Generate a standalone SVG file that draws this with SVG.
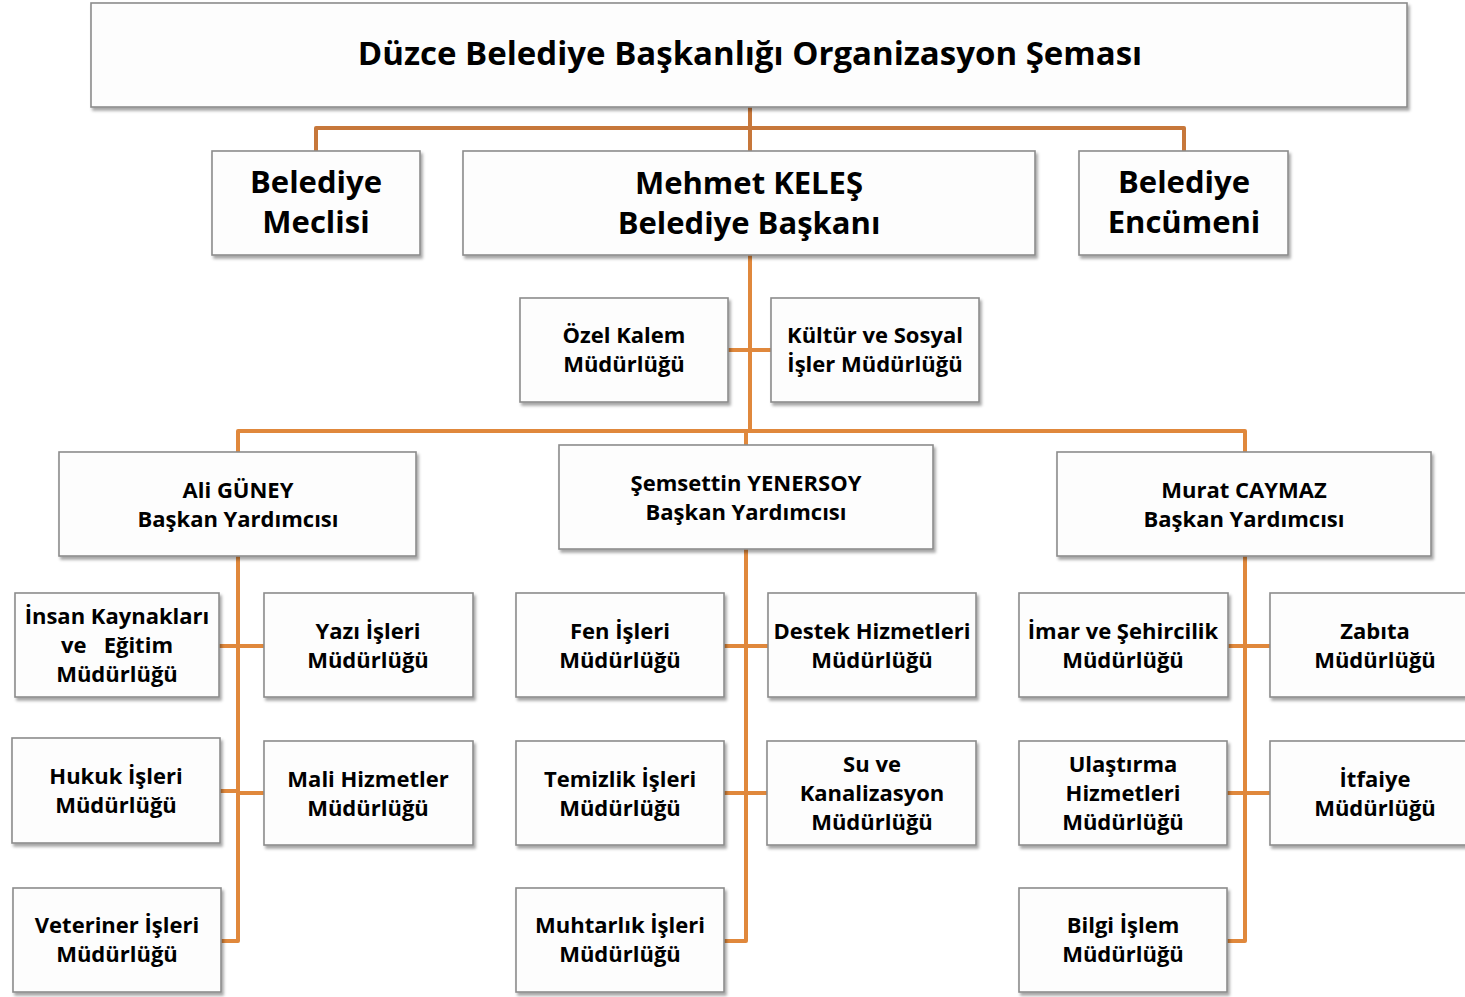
<svg xmlns="http://www.w3.org/2000/svg" width="1465" height="997" viewBox="0 0 1465 997">
<defs>
<filter id="sh" x="-5%" y="-10%" width="115%" height="130%">
<feDropShadow dx="2" dy="3" stdDeviation="1.8" flood-color="#000" flood-opacity="0.35"/>
</filter>
<style>
.box{fill:#fdfdfd;stroke:#8c8c8c;stroke-width:1.6;filter:url(#sh)}
text{font-family:"Open Sans","Noto Sans","DejaVu Sans",sans-serif;font-weight:700;fill:#000;text-anchor:middle}
.t0{font-size:33px}
.t1{font-size:31px}
.t2{font-size:22px}
.c1{fill:none;stroke:#c7773a;stroke-width:4;stroke-linejoin:round}
.c2{fill:none;stroke:#e0883c;stroke-width:4;stroke-linejoin:round}
</style>
</defs>
<rect width="1465" height="997" fill="#fff"/>
<g id="connectors">
<path class="c1" d="M750 107V151M316 151V128H1184V151"/>
<path class="c2" d="M750 255V431M746 431V445M238 452V431H1245V452M728 350H771"/>
<path class="c2" d="M238 556V941H221M219 646H264M220 791H238M238 793H264"/>
<path class="c2" d="M746 549V941H724M724 646H768M724 793H767"/>
<path class="c2" d="M1245 556V941H1227M1228 646H1270M1227 793H1270"/>
</g>
<g id="title"><rect class="box" x="91" y="3" width="1316" height="104"/><text class="t0" x="750" y="65">Düzce Belediye Başkanlığı Organizasyon Şeması</text></g>
<g id="meclis"><rect class="box" x="212" y="151" width="208" height="104"/><text class="t1" x="316" y="193">Belediye</text><text class="t1" x="316" y="233">Meclisi</text></g>
<g id="baskan"><rect class="box" x="463" y="151" width="572" height="104"/><text class="t1" x="749" y="194">Mehmet KELEŞ</text><text class="t1" x="749" y="234">Belediye Başkanı</text></g>
<g id="encumen"><rect class="box" x="1079" y="151" width="209" height="104"/><text class="t1" x="1184" y="193">Belediye</text><text class="t1" x="1184" y="233">Encümeni</text></g>
<g id="ozelkalem"><rect class="box" x="520" y="298" width="208" height="104"/><text class="t2" x="624" y="343">Özel Kalem</text><text class="t2" x="624" y="372">Müdürlüğü</text></g>
<g id="kultur"><rect class="box" x="771" y="298" width="208" height="104"/><text class="t2" x="875" y="343">Kültür ve Sosyal</text><text class="t2" x="875" y="372">İşler Müdürlüğü</text></g>
<g id="ali"><rect class="box" x="59" y="452" width="357" height="104"/><text class="t2" x="238" y="498">Ali GÜNEY</text><text class="t2" x="238" y="527">Başkan Yardımcısı</text></g>
<g id="semsettin"><rect class="box" x="559" y="445" width="374" height="104"/><text class="t2" x="746" y="491">Şemsettin YENERSOY</text><text class="t2" x="746" y="520">Başkan Yardımcısı</text></g>
<g id="murat"><rect class="box" x="1057" y="452" width="374" height="104"/><text class="t2" x="1244" y="498">Murat CAYMAZ</text><text class="t2" x="1244" y="527">Başkan Yardımcısı</text></g>
<g id="insan"><rect class="box" x="15" y="593" width="204" height="104"/><text class="t2" x="117" y="624">İnsan Kaynakları</text><text class="t2" x="117" y="653" style="white-space:pre">ve   Eğitim</text><text class="t2" x="117" y="682">Müdürlüğü</text></g>
<g id="yazi"><rect class="box" x="264" y="593" width="209" height="104"/><text class="t2" x="368" y="639">Yazı İşleri</text><text class="t2" x="368" y="668">Müdürlüğü</text></g>
<g id="hukuk"><rect class="box" x="12" y="738" width="208" height="105"/><text class="t2" x="116" y="784">Hukuk İşleri</text><text class="t2" x="116" y="813">Müdürlüğü</text></g>
<g id="mali"><rect class="box" x="264" y="741" width="209" height="104"/><text class="t2" x="368" y="787">Mali Hizmetler</text><text class="t2" x="368" y="816">Müdürlüğü</text></g>
<g id="veteriner"><rect class="box" x="13" y="888" width="208" height="104"/><text class="t2" x="117" y="933">Veteriner İşleri</text><text class="t2" x="117" y="962">Müdürlüğü</text></g>
<g id="fen"><rect class="box" x="516" y="593" width="208" height="104"/><text class="t2" x="620" y="639">Fen İşleri</text><text class="t2" x="620" y="668">Müdürlüğü</text></g>
<g id="destek"><rect class="box" x="768" y="593" width="208" height="104"/><text class="t2" x="872" y="639">Destek Hizmetleri</text><text class="t2" x="872" y="668">Müdürlüğü</text></g>
<g id="temizlik"><rect class="box" x="516" y="741" width="208" height="104"/><text class="t2" x="620" y="787">Temizlik İşleri</text><text class="t2" x="620" y="816">Müdürlüğü</text></g>
<g id="su"><rect class="box" x="767" y="741" width="209" height="104"/><text class="t2" x="872" y="772">Su ve</text><text class="t2" x="872" y="801">Kanalizasyon</text><text class="t2" x="872" y="830">Müdürlüğü</text></g>
<g id="muhtarlik"><rect class="box" x="516" y="888" width="208" height="104"/><text class="t2" x="620" y="933">Muhtarlık İşleri</text><text class="t2" x="620" y="962">Müdürlüğü</text></g>
<g id="imar"><rect class="box" x="1019" y="593" width="209" height="104"/><text class="t2" x="1123" y="639">İmar ve Şehircilik</text><text class="t2" x="1123" y="668">Müdürlüğü</text></g>
<g id="zabita"><rect class="box" x="1270" y="593" width="210" height="104"/><text class="t2" x="1375" y="639">Zabıta</text><text class="t2" x="1375" y="668">Müdürlüğü</text></g>
<g id="ulastirma"><rect class="box" x="1019" y="741" width="208" height="104"/><text class="t2" x="1123" y="772">Ulaştırma</text><text class="t2" x="1123" y="801">Hizmetleri</text><text class="t2" x="1123" y="830">Müdürlüğü</text></g>
<g id="itfaiye"><rect class="box" x="1270" y="741" width="210" height="104"/><text class="t2" x="1375" y="787">İtfaiye</text><text class="t2" x="1375" y="816">Müdürlüğü</text></g>
<g id="bilgi"><rect class="box" x="1019" y="888" width="208" height="104"/><text class="t2" x="1123" y="933">Bilgi İşlem</text><text class="t2" x="1123" y="962">Müdürlüğü</text></g>
</svg>
